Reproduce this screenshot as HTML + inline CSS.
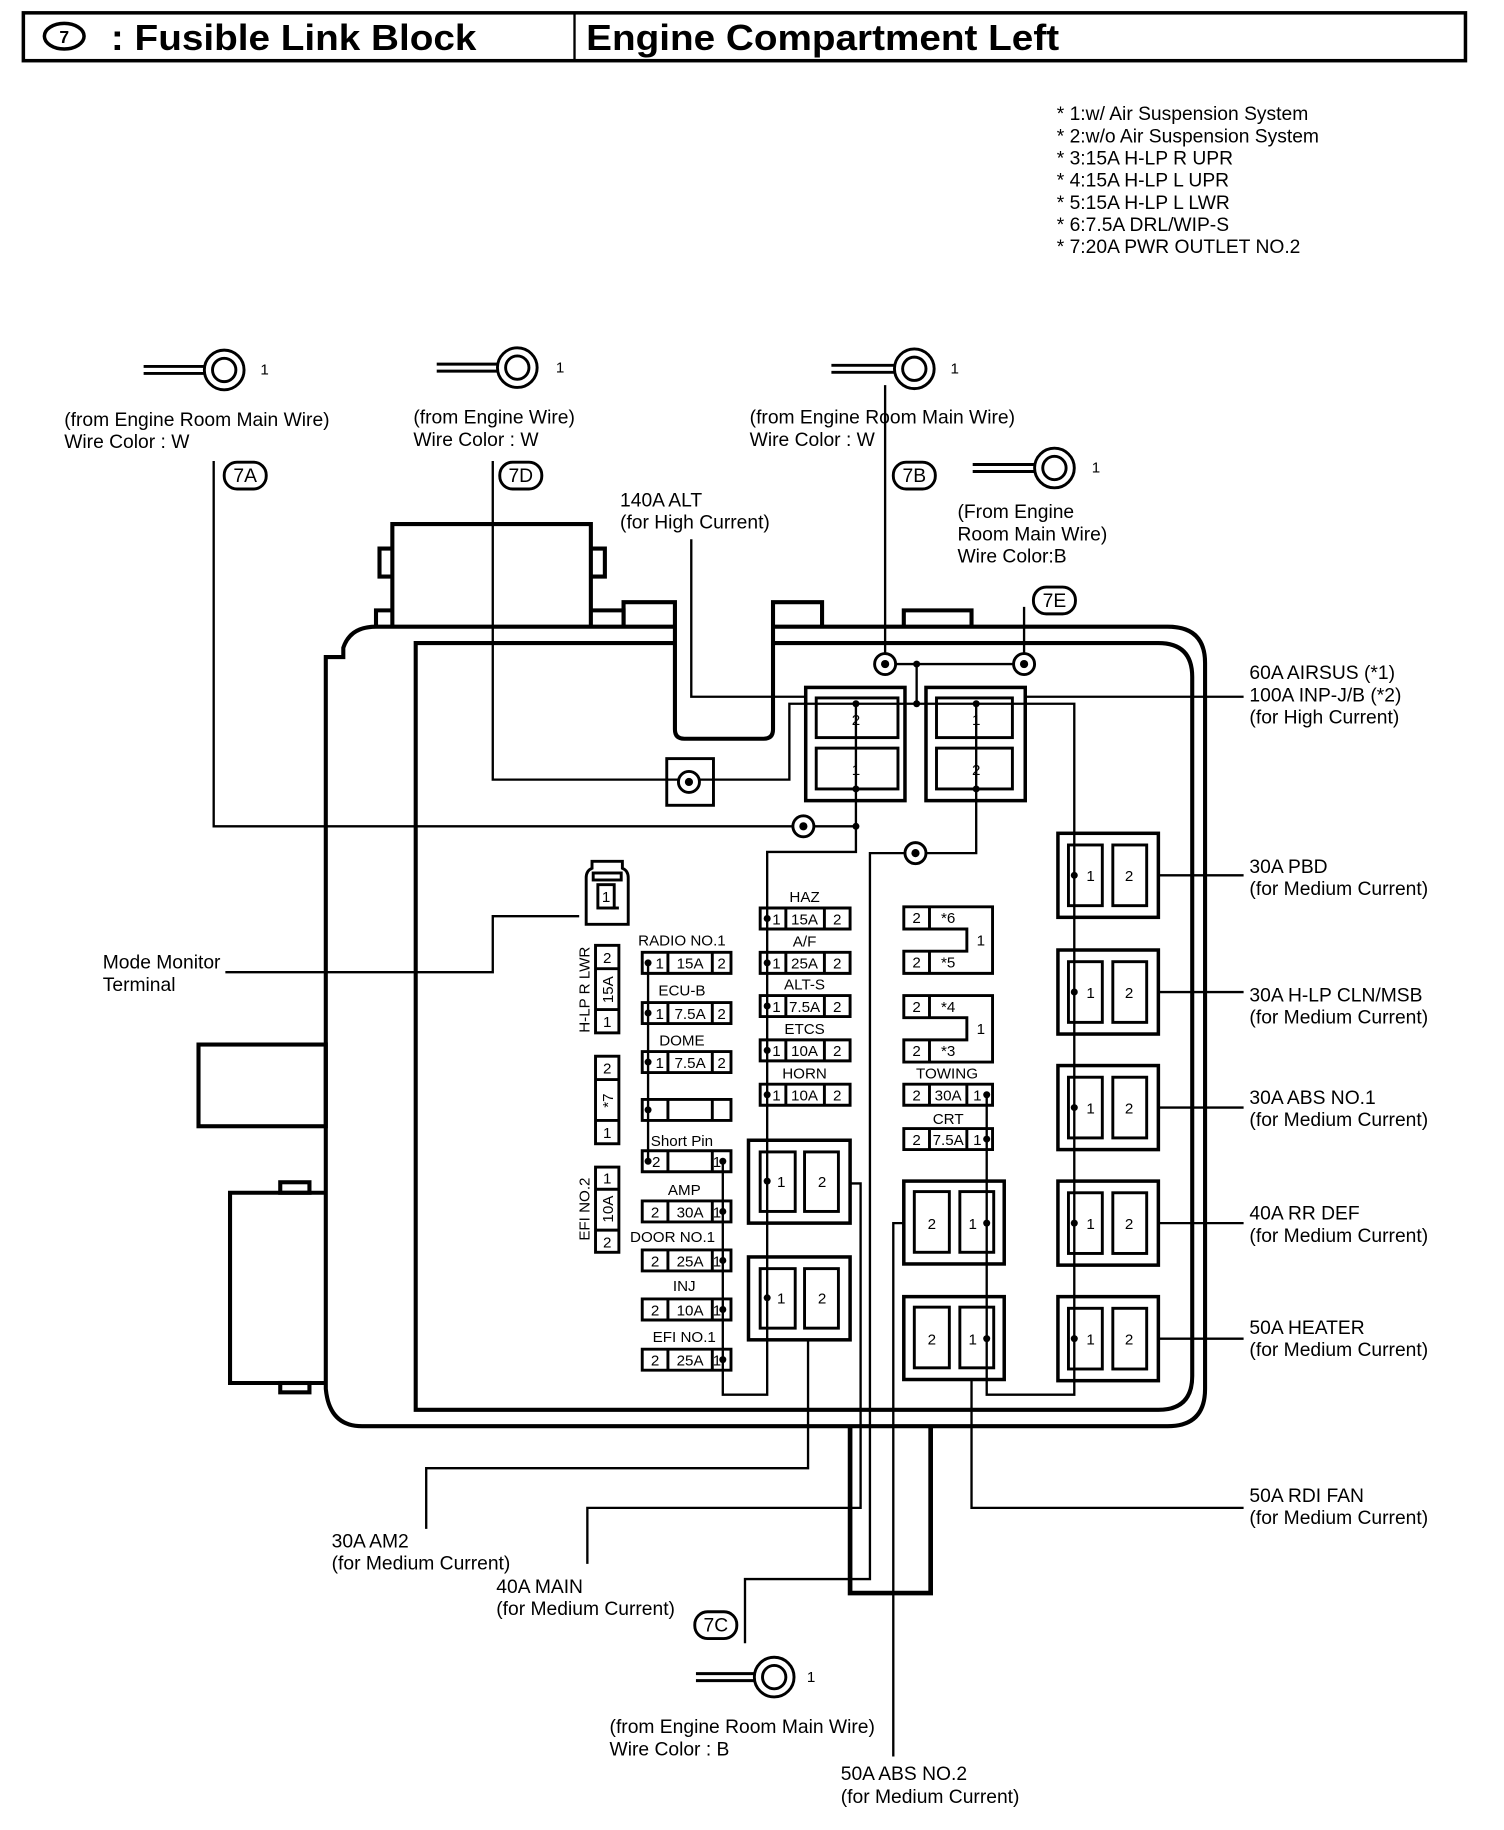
<!DOCTYPE html>
<html><head><meta charset="utf-8"><style>
html,body{margin:0;padding:0;background:#fff}
svg{display:block}
text{font-family:"Liberation Sans",Arial,sans-serif;fill:#000}
.t{font-size:16.5px}
.s{font-size:13px}
.c{text-anchor:middle}
</style></head><body>
<svg width="1504" height="1830" viewBox="0 0 1288 1568" preserveAspectRatio="none" xmlns="http://www.w3.org/2000/svg">
<g fill="none" stroke="#000">
<rect x="20" y="11" width="1235" height="41" stroke-width="3"/>
<line x1="492" y1="11" x2="492" y2="52" stroke-width="2"/>
<ellipse cx="55" cy="31" rx="17" ry="11" stroke-width="3"/>
</g>
<text x="55" y="37" class="c" style="font-size:15px;font-weight:bold">7</text>
<text x="95" y="43" style="font-size:31px;font-weight:bold" textLength="313" lengthAdjust="spacingAndGlyphs">: Fusible Link Block</text>
<text x="502" y="43" style="font-size:31px;font-weight:bold" textLength="405" lengthAdjust="spacingAndGlyphs">Engine Compartment Left</text>

<g class="t">
<text x="905" y="103">* 1:w/ Air Suspension System</text>
<text x="905" y="122">* 2:w/o Air Suspension System</text>
<text x="905" y="141">* 3:15A H-LP R UPR</text>
<text x="905" y="160">* 4:15A H-LP L UPR</text>
<text x="905" y="179">* 5:15A H-LP L LWR</text>
<text x="905" y="198">* 6:7.5A DRL/WIP-S</text>
<text x="905" y="217">* 7:20A PWR OUTLET NO.2</text>
</g>

<g fill="none" stroke="#000" stroke-width="2.5">
<g><line x1="123" y1="314" x2="176" y2="314"/><line x1="123" y1="320" x2="176" y2="320"/><circle cx="192" cy="317" r="17"/><circle cx="192" cy="317" r="10"/></g>
<g><line x1="374" y1="312" x2="427" y2="312"/><line x1="374" y1="318" x2="427" y2="318"/><circle cx="443" cy="315" r="17"/><circle cx="443" cy="315" r="10"/></g>
<g><line x1="712" y1="313" x2="766" y2="313"/><line x1="712" y1="319" x2="766" y2="319"/><circle cx="783" cy="316" r="17"/><circle cx="783" cy="316" r="10"/></g>
<g><line x1="833" y1="398" x2="886" y2="398"/><line x1="833" y1="404" x2="886" y2="404"/><circle cx="903" cy="401" r="17"/><circle cx="903" cy="401" r="10"/></g>
<g><line x1="596" y1="1434" x2="646" y2="1434"/><line x1="596" y1="1440" x2="646" y2="1440"/><circle cx="663" cy="1437" r="17"/><circle cx="663" cy="1437" r="10"/></g>
</g>
<g class="s"><text x="223" y="321">1</text><text x="476" y="319">1</text><text x="814" y="320">1</text><text x="935" y="405">1</text><text x="691" y="1441">1</text></g>

<g class="t">
<text x="55" y="365">(from Engine Room Main Wire)</text><text x="55" y="384">Wire Color : W</text>
<text x="354" y="363">(from Engine Wire)</text><text x="354" y="382">Wire Color : W</text>
<text x="642" y="363">(from Engine Room Main Wire)</text><text x="642" y="382">Wire Color : W</text>
<text x="820" y="444">(From Engine</text><text x="820" y="463">Room Main Wire)</text><text x="820" y="482">Wire Color:B</text>
<text x="522" y="1485">(from Engine Room Main Wire)</text><text x="522" y="1504">Wire Color : B</text>
<text x="531" y="434">140A ALT</text><text x="531" y="453">(for High Current)</text>
<text x="88" y="830">Mode Monitor</text><text x="88" y="849">Terminal</text>
<text x="1070" y="582">60A AIRSUS (*1)</text><text x="1070" y="601">100A INP-J/B (*2)</text><text x="1070" y="620">(for High Current)</text>
<text x="1070" y="748">30A PBD</text><text x="1070" y="767">(for Medium Current)</text>
<text x="1070" y="858">30A H-LP CLN/MSB</text><text x="1070" y="877">(for Medium Current)</text>
<text x="1070" y="946">30A ABS NO.1</text><text x="1070" y="965">(for Medium Current)</text>
<text x="1070" y="1045">40A RR DEF</text><text x="1070" y="1064">(for Medium Current)</text>
<text x="1070" y="1143">50A HEATER</text><text x="1070" y="1162">(for Medium Current)</text>
<text x="1070" y="1287">50A RDI FAN</text><text x="1070" y="1306">(for Medium Current)</text>
<text x="284" y="1326">30A AM2</text><text x="284" y="1345">(for Medium Current)</text>
<text x="425" y="1365">40A MAIN</text><text x="425" y="1384">(for Medium Current)</text>
<text x="720" y="1525">50A ABS NO.2</text><text x="720" y="1545">(for Medium Current)</text>
</g>

<g fill="none" stroke="#000" stroke-width="2.5">
<rect x="192" y="396" width="36" height="23" rx="11"/>
<rect x="428" y="396" width="36" height="23" rx="11"/>
<rect x="765" y="396" width="36" height="23" rx="11"/>
<rect x="885" y="503" width="36" height="23" rx="11"/>
<rect x="595" y="1381" width="36" height="23" rx="11"/>
</g>
<g class="t c"><text x="210" y="413">7A</text><text x="446" y="413">7D</text><text x="783" y="413">7B</text><text x="903" y="520">7E</text><text x="613" y="1398">7C</text></g>

<g fill="none" stroke="#000" stroke-width="3.5" stroke-linejoin="miter">
<path d="M336 537 V449 H506 V537"/>
<path d="M336 470 H325 V494 H336"/>
<path d="M506 470 H518 V494 H506"/>
<path d="M336 523 H322 V537"/>
<path d="M506 523 H534 V537"/>
<path d="M534 537 V516 H578 V625 Q578 633 586 633 H654 Q662 633 662 625 V516 H704 V537"/>
<path d="M774 537 V523 H832 V537"/>
<path d="M578 537 H322 Q300 537 294 555 L294 563 H279 V1190 Q282 1222 310 1222 H1000 Q1032 1222 1032 1190 V568 Q1032 537 1000 537 H662"/>
<path d="M578 551 H356 V1208 H992 Q1021 1208 1021 1179 V580 Q1021 551 992 551 H662"/>
<rect x="170" y="895" width="109" height="70"/>
<path d="M279 1022 H197 V1185 H279"/>
<rect x="240" y="1013" width="25" height="9"/>
<rect x="240" y="1185" width="25" height="8"/>
</g>

<g fill="none" stroke="#000" stroke-width="3">
<rect x="690" y="589" width="85" height="97"/>
<rect x="699" y="598" width="70" height="34" stroke-width="2.5"/>
<rect x="699" y="641" width="70" height="35" stroke-width="2.5"/>
<rect x="793" y="589" width="85" height="97"/>
<rect x="802" y="598" width="65" height="34" stroke-width="2.5"/>
<rect x="802" y="641" width="65" height="35" stroke-width="2.5"/>
<rect x="571" y="650" width="40" height="40" stroke-width="2.5"/>
</g>
<g class="s c"><text x="733" y="621">2</text><text x="733" y="664">1</text><text x="836" y="621">1</text><text x="836" y="664">2</text></g>

<g fill="none" stroke="#000" stroke-width="2">
<path d="M183 395 V708 H733"/>
<path d="M422 395 V668 H676 V603 H920 V1195 H845 V938"/>
<path d="M758 330 V569 H877 V520"/>
<path d="M785 569 V603"/>
<path d="M592 462 V597 H690"/>
<path d="M878 597 H1065"/>
<path d="M733 603 V730 H657 V1195 H619 V994"/>
<path d="M836 603 V731 H745 V1353 H638 V1408"/>
<path d="M555 824 V994"/>
<path d="M193 833 H422 V785 H496"/>
<path d="M728 1014 H737 V1292 H503 V1340"/>
<path d="M692 1147 V1258 H365 V1310"/>
<path d="M774 1048 H765 V1505"/>
<path d="M832 1183 V1292 H1065"/>
<path d="M992 750 H1065 M992 850 H1065 M992 949 H1065 M992 1048 H1065 M992 1147 H1065"/>
</g>
<path d="M728 1222 V1365 H797 V1222" fill="none" stroke="#000" stroke-width="4"/>
<g fill="#fff" stroke="#000" stroke-width="2.5">
<circle cx="758" cy="569" r="9"/><circle cx="877" cy="569" r="9"/>
<circle cx="590" cy="670" r="9"/><circle cx="688" cy="708" r="9"/><circle cx="784" cy="731" r="9"/>
</g>
<g fill="#000">
<circle cx="758" cy="569" r="3.5"/><circle cx="877" cy="569" r="3.5"/><circle cx="590" cy="670" r="3.5"/><circle cx="688" cy="708" r="3.5"/><circle cx="784" cy="731" r="3.5"/>
<circle cx="785" cy="569" r="3"/><circle cx="785" cy="603" r="3"/><circle cx="733" cy="603" r="3"/><circle cx="836" cy="603" r="3"/><circle cx="733" cy="676" r="3"/><circle cx="836" cy="676" r="3"/><circle cx="733" cy="708" r="3"/>
</g>

<g fill="none" stroke="#000" stroke-width="2.5">
<path d="M502 792 V752 Q502 746 507 744 V738 H533 V744 Q538 746 538 752 V792 Z"/>
<rect x="508" y="748" width="24" height="6"/>
<rect x="512" y="758" width="14" height="20"/>
<line x1="523" y1="778" x2="530" y2="778"/>
</g>
<text x="519" y="773" class="s c">1</text>

<g fill="none" stroke="#000" stroke-width="2.5">
<rect x="510" y="810" width="20" height="75"/><line x1="510" y1="830" x2="530" y2="830"/><line x1="510" y1="865" x2="530" y2="865"/>
<rect x="510" y="905" width="20" height="75"/><line x1="510" y1="925" x2="530" y2="925"/><line x1="510" y1="960" x2="530" y2="960"/>
<rect x="510" y="1000" width="20" height="73"/><line x1="510" y1="1019" x2="530" y2="1019"/><line x1="510" y1="1054" x2="530" y2="1054"/>
</g>
<g class="s c">
<text x="520" y="825">2</text><text x="520" y="880">1</text><text x="520" y="920">2</text><text x="520" y="975">1</text><text x="520" y="1014">1</text><text x="520" y="1069">2</text>
<text transform="translate(525,848) rotate(-90)">15A</text>
<text transform="translate(525,943) rotate(-90)">*7</text>
<text transform="translate(525,1036) rotate(-90)">10A</text>
<text transform="translate(505,848) rotate(-90)">H-LP R LWR</text>
<text transform="translate(505,1036) rotate(-90)">EFI NO.2</text>
</g>

<g fill="none" stroke="#000" stroke-width="2.5">
<path d="M550 816 h76 v18 h-76 z M572 816 v18 M610 816 v18"/>
<path d="M550 859 h76 v18 h-76 z M572 859 v18 M610 859 v18"/>
<path d="M550 901 h76 v18 h-76 z M572 901 v18 M610 901 v18"/>
<path d="M550 942 h76 v18 h-76 z M572 942 v18 M610 942 v18"/>
<path d="M550 986 h76 v18 h-76 z M572 986 v18 M610 986 v18"/>
<path d="M550 1029 h76 v18 h-76 z M572 1029 v18 M610 1029 v18"/>
<path d="M550 1071 h76 v18 h-76 z M572 1071 v18 M610 1071 v18"/>
<path d="M550 1113 h76 v18 h-76 z M572 1113 v18 M610 1113 v18"/>
<path d="M550 1156 h76 v18 h-76 z M572 1156 v18 M610 1156 v18"/>
</g>
<g class="s c">
<text x="584" y="810">RADIO NO.1</text><text x="565" y="830">1</text><text x="591" y="830">15A</text><text x="618" y="830">2</text>
<text x="584" y="853">ECU-B</text><text x="565" y="873">1</text><text x="591" y="873">7.5A</text><text x="618" y="873">2</text>
<text x="584" y="896">DOME</text><text x="565" y="915">1</text><text x="591" y="915">7.5A</text><text x="618" y="915">2</text>
<text x="584" y="982">Short Pin</text><text x="562" y="1000">2</text><text x="614" y="1000">1</text>
<text x="586" y="1024">AMP</text><text x="561" y="1043">2</text><text x="591" y="1043">30A</text><text x="614" y="1043">1</text>
<text x="576" y="1064">DOOR NO.1</text><text x="561" y="1085">2</text><text x="591" y="1085">25A</text><text x="614" y="1085">1</text>
<text x="586" y="1106">INJ</text><text x="561" y="1127">2</text><text x="591" y="1127">10A</text><text x="614" y="1127">1</text>
<text x="586" y="1150">EFI NO.1</text><text x="561" y="1170">2</text><text x="591" y="1170">25A</text><text x="614" y="1170">1</text>
</g>
<g fill="#000"><circle cx="555" cy="825" r="3"/><circle cx="555" cy="868" r="3"/><circle cx="555" cy="910" r="3"/><circle cx="555" cy="951" r="3"/><circle cx="555" cy="995" r="3"/>
<circle cx="619" cy="995" r="3"/><circle cx="619" cy="1038" r="3"/><circle cx="619" cy="1080" r="3"/><circle cx="619" cy="1122" r="3"/><circle cx="619" cy="1165" r="3"/></g>

<g fill="none" stroke="#000" stroke-width="2.5">
<path d="M651 778 h77 v18 h-77 z M673 778 v18 M706 778 v18"/>
<path d="M651 816 h77 v18 h-77 z M673 816 v18 M706 816 v18"/>
<path d="M651 853 h77 v18 h-77 z M673 853 v18 M706 853 v18"/>
<path d="M651 891 h77 v18 h-77 z M673 891 v18 M706 891 v18"/>
<path d="M651 929 h77 v18 h-77 z M673 929 v18 M706 929 v18"/>
<rect x="641" y="977" width="87" height="71" stroke-width="3"/><rect x="651" y="987" width="30" height="51"/><rect x="689" y="987" width="29" height="51"/>
<rect x="641" y="1077" width="87" height="71" stroke-width="3"/><rect x="651" y="1087" width="30" height="51"/><rect x="689" y="1087" width="29" height="51"/>
</g>
<g class="s c">
<text x="689" y="773">HAZ</text><text x="665" y="792">1</text><text x="689" y="792">15A</text><text x="717" y="792">2</text>
<text x="689" y="811">A/F</text><text x="665" y="830">1</text><text x="689" y="830">25A</text><text x="717" y="830">2</text>
<text x="689" y="848">ALT-S</text><text x="665" y="867">1</text><text x="689" y="867">7.5A</text><text x="717" y="867">2</text>
<text x="689" y="886">ETCS</text><text x="665" y="905">1</text><text x="689" y="905">10A</text><text x="717" y="905">2</text>
<text x="689" y="924">HORN</text><text x="665" y="943">1</text><text x="689" y="943">10A</text><text x="717" y="943">2</text>
<text x="669" y="1017">1</text><text x="704" y="1017">2</text><text x="669" y="1117">1</text><text x="704" y="1117">2</text>
</g>
<g fill="#000"><circle cx="657" cy="787" r="3"/><circle cx="657" cy="825" r="3"/><circle cx="657" cy="862" r="3"/><circle cx="657" cy="900" r="3"/><circle cx="657" cy="938" r="3"/><circle cx="657" cy="1012" r="3"/><circle cx="657" cy="1112" r="3"/></g>

<g fill="none" stroke="#000" stroke-width="2.5">
<path d="M774 777 H850 V834 H774 V815 H828 V796 H774 Z M796 777 v19 M796 815 v19 M828 796 v19"/>
<path d="M774 853 H850 V910 H774 V891 H828 V872 H774 Z M796 853 v19 M796 891 v19 M828 872 v19"/>
<path d="M774 929 h76 v18 h-76 z M796 929 v18 M828 929 v18"/>
<path d="M774 967 h76 v18 h-76 z M796 967 v18 M828 967 v18"/>
<rect x="774" y="1012" width="86" height="71" stroke-width="3"/><rect x="783" y="1021" width="30" height="52"/><rect x="822" y="1021" width="29" height="52"/>
<rect x="774" y="1111" width="86" height="71" stroke-width="3"/><rect x="783" y="1120" width="30" height="52"/><rect x="822" y="1120" width="29" height="52"/>
</g>
<g class="s c">
<text x="785" y="791">2</text><text x="812" y="791">*6</text><text x="785" y="829">2</text><text x="812" y="829">*5</text><text x="840" y="810">1</text>
<text x="785" y="867">2</text><text x="812" y="867">*4</text><text x="785" y="905">2</text><text x="812" y="905">*3</text><text x="840" y="886">1</text>
<text x="811" y="924">TOWING</text><text x="785" y="943">2</text><text x="812" y="943">30A</text><text x="837" y="943">1</text>
<text x="812" y="963">CRT</text><text x="785" y="981">2</text><text x="812" y="981">7.5A</text><text x="837" y="981">1</text>
<text x="798" y="1053">2</text><text x="833" y="1053">1</text><text x="798" y="1152">2</text><text x="833" y="1152">1</text>
</g>
<g fill="#000"><circle cx="845" cy="938" r="3"/><circle cx="845" cy="976" r="3"/><circle cx="845" cy="1048" r="3"/><circle cx="845" cy="1147" r="3"/></g>

<g fill="none" stroke="#000" stroke-width="2.5">
<rect x="906" y="714" width="86" height="72" stroke-width="3"/><rect x="915" y="724" width="29" height="52"/><rect x="953" y="724" width="29" height="52"/>
<rect x="906" y="814" width="86" height="72" stroke-width="3"/><rect x="915" y="824" width="29" height="52"/><rect x="953" y="824" width="29" height="52"/>
<rect x="906" y="913" width="86" height="72" stroke-width="3"/><rect x="915" y="923" width="29" height="52"/><rect x="953" y="923" width="29" height="52"/>
<rect x="906" y="1012" width="86" height="72" stroke-width="3"/><rect x="915" y="1022" width="29" height="52"/><rect x="953" y="1022" width="29" height="52"/>
<rect x="906" y="1111" width="86" height="72" stroke-width="3"/><rect x="915" y="1121" width="29" height="52"/><rect x="953" y="1121" width="29" height="52"/>
</g>
<g class="s c">
<text x="934" y="755">1</text><text x="967" y="755">2</text>
<text x="934" y="855">1</text><text x="967" y="855">2</text>
<text x="934" y="954">1</text><text x="967" y="954">2</text>
<text x="934" y="1053">1</text><text x="967" y="1053">2</text>
<text x="934" y="1152">1</text><text x="967" y="1152">2</text>
</g>
<g fill="#000"><circle cx="920" cy="750" r="3"/><circle cx="920" cy="850" r="3"/><circle cx="920" cy="949" r="3"/><circle cx="920" cy="1048" r="3"/><circle cx="920" cy="1147" r="3"/></g>
</svg>
</body></html>
